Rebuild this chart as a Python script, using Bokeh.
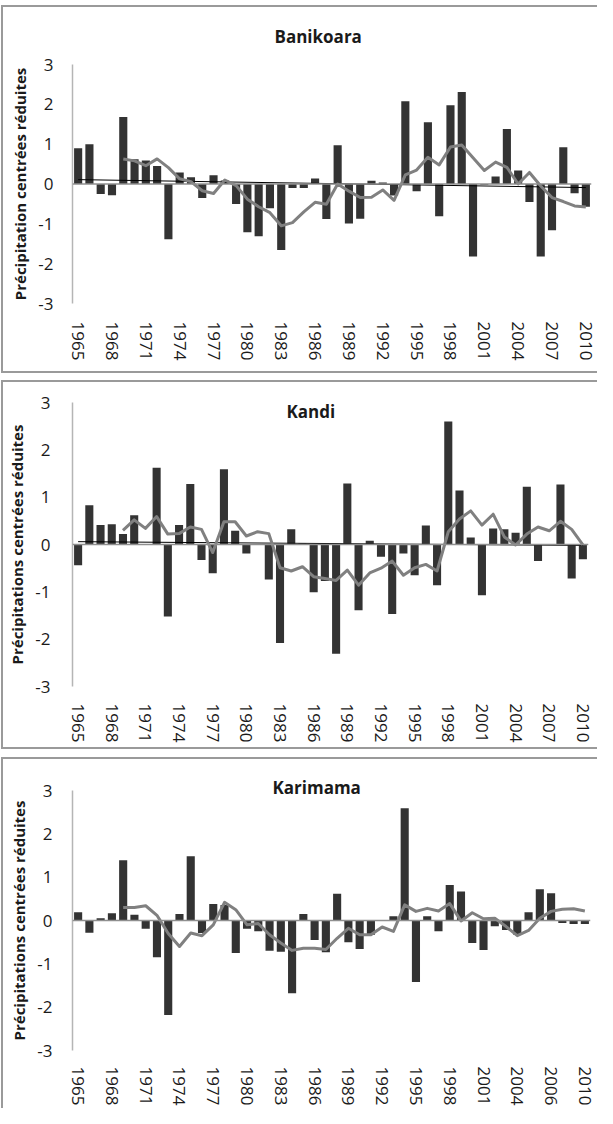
from bokeh.models import ColumnDataSource, FixedTicker, Span, Range1d, Title
from bokeh.plotting import figure
from bokeh.layouts import column
from bokeh.embed import file_html
from bokeh.resources import INLINE

# ---------------- data ----------------
years = list(range(1965, 2011))
ma_years = years[4:]
trend_years = [1965, 2010]
tick_years = years[::3]

banikoara = [0.90, 1.00, -0.25, -0.28, 1.68, 0.62, 0.59, 0.45, -1.39, 0.29,
             0.17, -0.35, 0.22, 0.09, -0.50, -1.21, -1.31, -0.61, -1.66, -0.10,
             -0.10, 0.14, -0.88, 0.97, -0.99, -0.87, 0.08, 0.04, -0.29, 2.08,
             -0.18, 1.55, -0.81, 1.98, 2.31, -1.82, -0.02, 0.19, 1.38, 0.34,
             -0.45, -1.82, -1.16, 0.92, -0.23, -0.57]
banikoara_ma = [0.63, 0.58, 0.46, 0.63, 0.41, 0.13, 0.06, -0.17, -0.24, 0.10,
                -0.04, -0.38, -0.57, -0.72, -1.05, -0.97, -0.70, -0.46, -0.51, 0.00,
                -0.18, -0.34, -0.33, -0.15, -0.41, 0.23, 0.35, 0.67, 0.48, 0.93,
                0.98, 0.66, 0.34, 0.55, 0.42, 0.00, 0.29, -0.05, -0.34, -0.44,
                -0.55, -0.58]
banikoara_trend = [0.11, -0.09]

kandi = [-0.44, 0.83, 0.41, 0.43, 0.22, 0.62, 0.00, 1.62, -1.52, 0.41,
         1.28, -0.33, -0.61, 1.59, 0.29, -0.19, 0.00, -0.74, -2.08, 0.32,
         0.02, -1.01, -0.77, -2.31, 1.29, -1.39, 0.08, -0.26, -1.47, -0.19,
         -0.65, 0.40, -0.86, 2.60, 1.14, 0.15, -1.07, 0.34, 0.32, 0.25,
         1.22, -0.35, 0.00, 1.27, -0.72, -0.31]
kandi_ma = [0.30, 0.52, 0.34, 0.59, 0.22, 0.23, 0.37, 0.32, -0.17, 0.48,
            0.48, 0.18, 0.27, 0.23, -0.49, -0.56, -0.47, -0.68, -0.72, -0.76,
            -0.54, -0.86, -0.60, -0.50, -0.35, -0.65, -0.49, -0.42, -0.56, 0.27,
            0.54, 0.71, 0.41, 0.64, 0.16, -0.01, 0.22, 0.37, 0.29, 0.49,
            0.32, -0.01]
kandi_trend = [0.06, -0.02]

karimama = [0.19, -0.28, 0.05, 0.17, 1.39, 0.13, -0.19, -0.85, -2.18, 0.15,
            1.48, -0.29, 0.38, 0.36, -0.75, -0.19, -0.25, -0.70, -0.72, -1.68,
            0.15, -0.45, -0.73, 0.62, -0.50, -0.66, -0.33, 0.00, 0.10, 2.59,
            -1.42, 0.10, -0.25, 0.82, 0.67, -0.52, -0.68, -0.13, -0.22, -0.33,
            0.19, 0.72, 0.63, -0.06, -0.08, -0.08]
karimama_ma = [0.30, 0.30, 0.34, 0.12, -0.30, -0.60, -0.29, -0.35, -0.10, 0.42,
               0.25, -0.10, -0.07, -0.33, -0.52, -0.69, -0.64, -0.64, -0.67, -0.41,
               -0.18, -0.33, -0.33, -0.15, -0.25, 0.36, 0.21, 0.28, 0.22, 0.39,
               -0.01, 0.18, 0.04, 0.05, -0.14, -0.35, -0.23, 0.05, 0.21, 0.26,
               0.27, 0.22]
karimama_trend = None

labels_banikoara = ["1965", "1968", "1971", "1974", "1977", "1980", "1983", "1986",
                    "1989", "1992", "1995", "1998", "2001", "2004", "2007", "2010"]
labels_kandi = ["1965", "1968", "1971", "1974", "1977", "1980", "1983", "1986",
                "1989", "1992", "1995", "1998", "2001", "2004", "2007", "2010"]
labels_karimama = ["1965", "1968", "1971", "1974", "1977", "1980", "1983", "1986",
                   "1989", "1992", "1995", "1998", "2001", "2004", "2006", "2010"]
y_ticks = [-3, -2, -1, 0, 1, 2, 3]
y_labels = ["-3", "-2", "-1", "0", "1", "2", "3"]

# ---------------- styling ----------------
BAR = "#333333"
MA = "#808080"
FONT = "Open Sans"
TXT = "#1a1a1a"


def make_panel(vals, ma, trend, title, ylabel, labels, geo):
    p = figure(frame_width=geo["fw"], frame_height=geo["fh"],
               x_range=Range1d(1964.5, 2010.5), y_range=Range1d(-3, 3),
               output_backend="svg", toolbar_location=None,
               min_border_left=geo["l"], min_border_right=geo["r"],
               min_border_top=geo["t"], min_border_bottom=geo["b"])
    p.margin = (geo["mt"], 0, 0, 1)
    p.styles = {"box-shadow": geo["shadow"]}
    p.border_fill_color = None
    p.background_fill_color = "white"
    p.outline_line_color = None
    p.grid.visible = False

    src = ColumnDataSource(dict(year=years, val=vals))
    p.vbar(x="year", top="val", width=0.72, bottom=0, source=src,
           fill_color=BAR, line_color=None)

    p.add_layout(Span(location=0, dimension="width", line_color="#8f8f8f",
                      line_width=1.5))
    if trend is not None:
        p.line(trend_years, trend, line_color="black", line_width=1)
    p.line(ma_years, ma, line_color=MA, line_width=3, line_join="round")

    ya = p.yaxis[0]
    ya.ticker = FixedTicker(ticks=y_ticks)
    ya.major_label_overrides = dict(zip(y_ticks, y_labels))
    ya.major_tick_out = 0
    ya.major_tick_in = 0
    ya.minor_tick_out = 0
    ya.minor_tick_in = 0
    ya.major_tick_line_color = None
    ya.minor_tick_line_color = None
    ya.axis_line_color = "#b5b5b5"
    ya.axis_line_width = 1.5
    ya.major_label_standoff = geo["ys"]
    ya.major_label_text_font = FONT
    ya.major_label_text_font_size = "17px"
    ya.major_label_text_color = TXT
    ya.axis_label = ylabel
    ya.axis_label_text_font = FONT
    ya.axis_label_text_font_style = "bold"
    ya.axis_label_text_font_size = "15px"
    ya.axis_label_text_color = TXT
    ya.axis_label_standoff = geo["ls"]

    xa = p.xaxis[0]
    xa.ticker = FixedTicker(ticks=tick_years)
    xa.major_label_overrides = dict(zip(tick_years, labels))
    xa.major_label_orientation = "vertical"
    xa.major_tick_out = 0
    xa.major_tick_in = 0
    xa.minor_tick_out = 0
    xa.minor_tick_in = 0
    xa.major_tick_line_color = None
    xa.minor_tick_line_color = None
    xa.axis_line_color = None
    xa.major_label_standoff = geo["xs"]
    xa.major_label_text_font = FONT
    xa.major_label_text_font_size = "17px"
    xa.major_label_text_color = TXT

    p.title = Title(text=title, text_font=FONT, text_font_style="bold",
                    text_font_size="17px", text_color=TXT, align="left",
                    offset=geo["to"], standoff=geo["ts"])
    return p


BORDER = "#9a9a9a"
sh_full = f"inset 2px 2px 0 0 {BORDER}, inset 0 -2px 0 0 {BORDER}"
sh_open = f"inset 2px 2px 0 0 {BORDER}"

p1 = make_panel(banikoara, banikoara_ma, banikoara_trend, "Banikoara",
                "Précipitation centrées réduites", labels_banikoara,
                dict(fw=519, fh=239, mt=5, l=68, r=9, t=58, b=70, ys=19, xs=18,
                     ls=5, to=202, ts=34, shadow=sh_full))
p2 = make_panel(kandi, kandi_ma, kandi_trend, "Kandi",
                "Précipitations centrées réduites", labels_kandi,
                dict(fw=516, fh=284, mt=7, l=71, r=9, t=22, b=63, ys=22, xs=17,
                     ls=5, to=214, ts=-40, shadow=sh_full))
p3 = make_panel(karimama, karimama_ma, karimama_trend, "Karimama",
                "Précipitations centrées réduites", labels_karimama,
                dict(fw=518, fh=260, mt=8, l=69, r=9, t=33, b=54, ys=20, xs=16,
                     ls=5, to=200, ts=-16, shadow=sh_open))

layout = column(p1, p2, p3)
open("out.html", "w").write(file_html(layout, INLINE))
